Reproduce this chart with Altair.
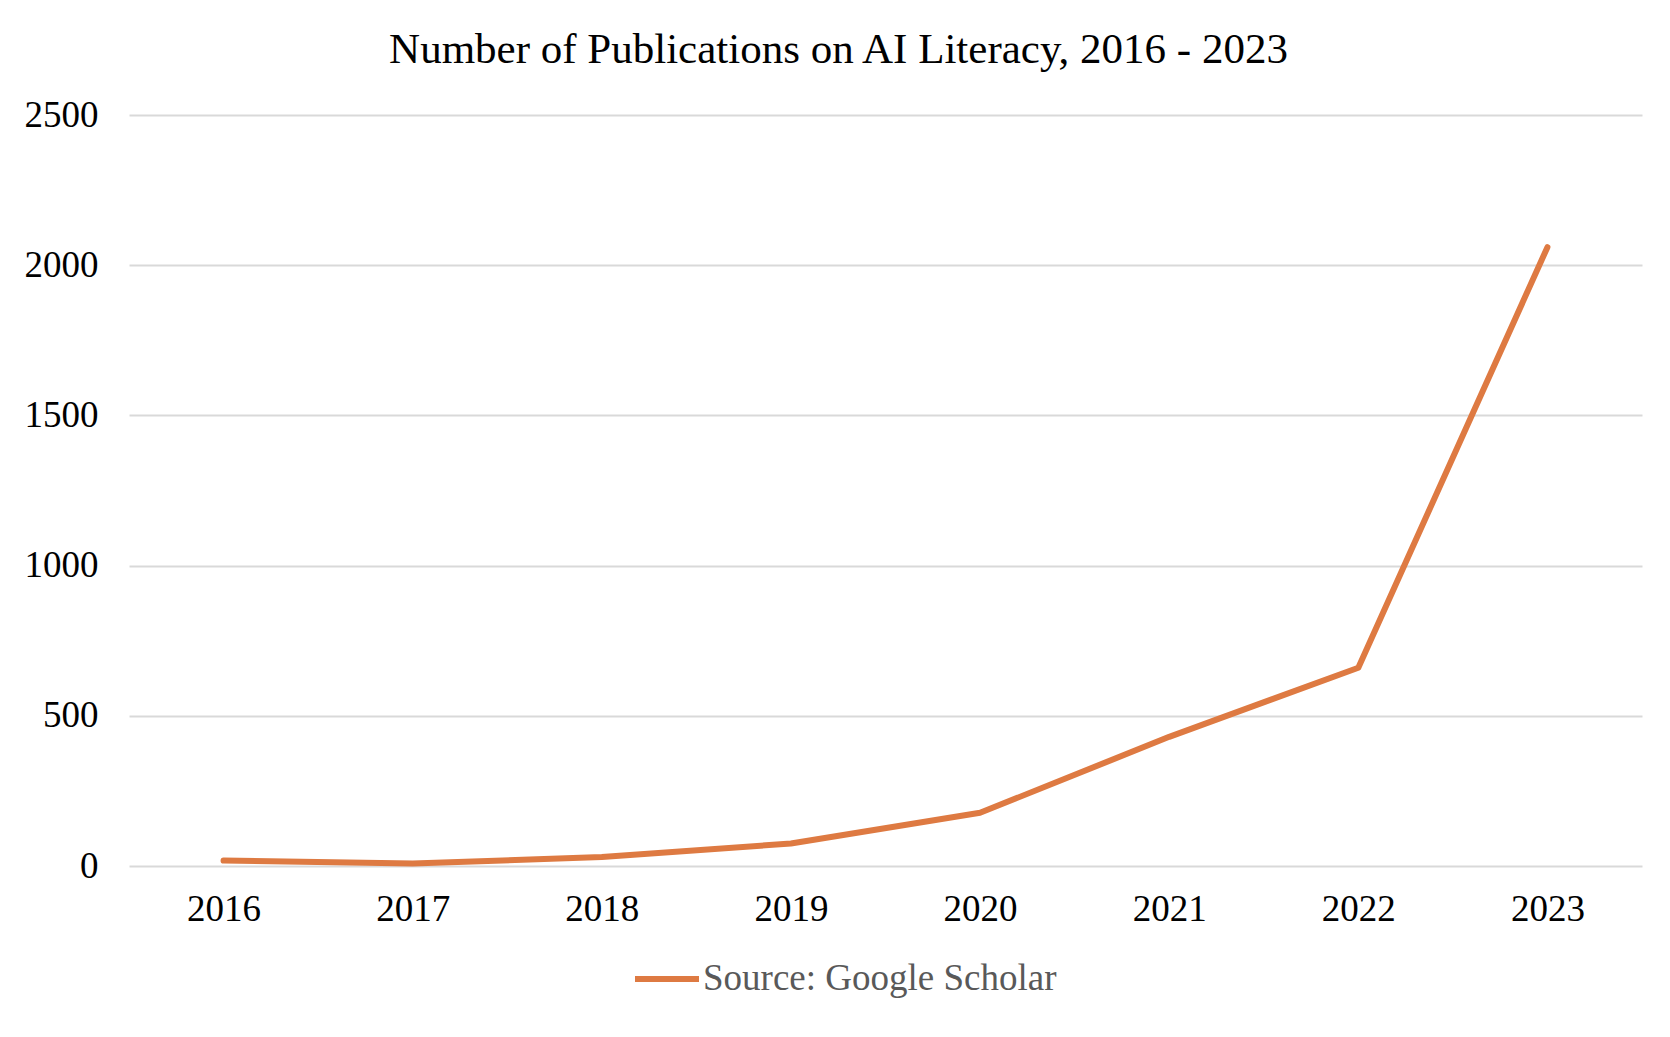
import altair as alt
import pandas as pd

years = ["2016", "2017", "2018", "2019", "2020", "2021", "2022", "2023"]
publications = [18, 8, 30, 75, 177, 430, 660, 2060]
series_name = "Source: Google Scholar"
y_ticks = [0, 500, 1000, 1500, 2000, 2500]

df = pd.DataFrame({"year": years, "count": publications, "series": [series_name] * len(years)})

FONT = "Liberation Serif"
ORANGE = "#DE7A42"

chart = (
    alt.Chart(df)
    .mark_line(strokeWidth=6, strokeCap="round", strokeJoin="round")
    .encode(
        x=alt.X(
            "year:O",
            sort=years,
            scale=alt.Scale(type="point", padding=0.5),
            axis=alt.Axis(
                title=None, labelAngle=0, domain=False, ticks=False, grid=False,
                labelFont=FONT, labelFontSize=37, labelColor="#000000", labelPadding=25,
            ),
        ),
        y=alt.Y(
            "count:Q",
            scale=alt.Scale(domain=[0, 2500], nice=False),
            axis=alt.Axis(
                title=None, values=y_ticks, format="d", domain=False, ticks=False, grid=True,
                gridColor="#D9D9D9", gridWidth=2,
                labelFont=FONT, labelFontSize=37, labelColor="#000000", labelPadding=31,
            ),
        ),
        color=alt.Color(
            "series:N",
            scale=alt.Scale(domain=[series_name], range=[ORANGE]),
            legend=alt.Legend(
                title=None, orient="none", legendX=503, legendY=829,
                symbolType="stroke", symbolSize=4096, symbolStrokeWidth=6,
                labelFont=FONT, labelFontSize=37, labelColor="#595959", labelOffset=1,
                labelLimit=0, padding=0,
            ),
        ),
    )
    .properties(
        width=1513,
        height=751,
        autosize=alt.AutoSizeParams(type="none"),
        padding={"left": 121, "top": 107, "right": 20, "bottom": 155},
        title=alt.TitleParams(
            "Number of Publications on AI Literacy, 2016 - 2023",
            font=FONT, fontSize=43, fontWeight="normal", color="#000000",
            anchor="middle", frame="group", dx=-47, offset=24,
        ),
    )
    .configure(background="#FFFFFF", view=alt.ViewConfig(stroke=None))
)

chart.save("out.html", embed_options={"renderer": "svg", "actions": False})
